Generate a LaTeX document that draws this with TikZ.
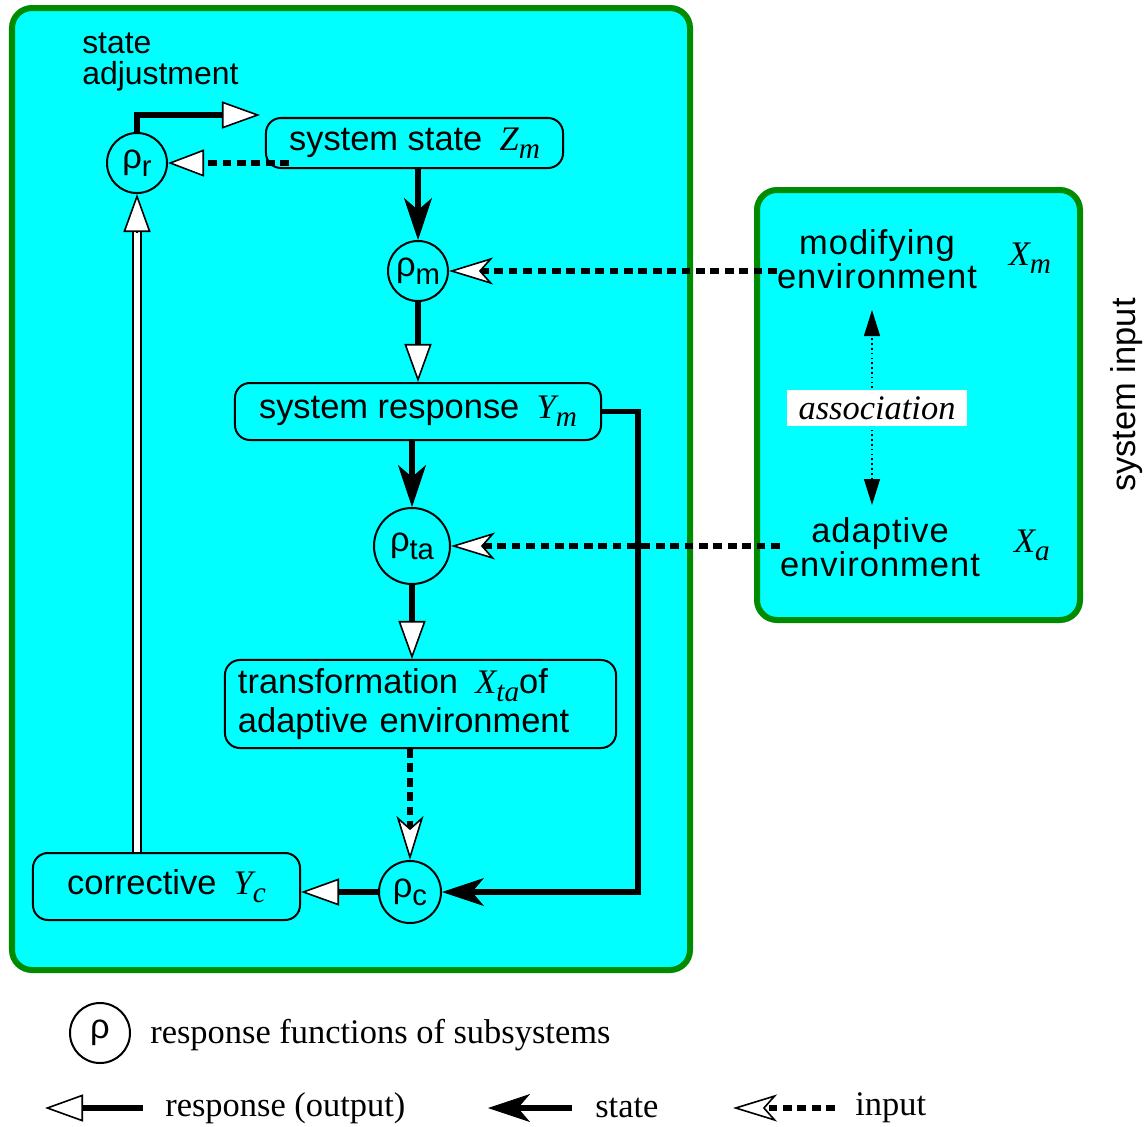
\documentclass[tikz,border=0pt]{standalone}
\usepackage{fontspec}
\setmainfont{Liberation Sans}
\newfontfamily\serif{Liberation Serif}
\newfontfamily\spaced[LetterSpace=3]{Liberation Sans}
\usepackage{tikz}
\usetikzlibrary{arrows.meta,calc}
\definecolor{boxcyan}{RGB}{0,255,255}
\definecolor{boxgreen}{RGB}{0,139,0}
\newcommand{\lowsub}[1]{\raisebox{-0.24em}{\fontsize{20.8}{20.8}\selectfont #1}}
\newcommand{\ivar}[2]{{\serif\itshape #1\lowsub{#2}}}

\begin{document}
\begin{tikzpicture}[x=0.025cm, y=-0.025cm, inner sep=0pt, font=\fontsize{24.5}{29}\selectfont,
    panel/.style={draw=boxgreen, fill=boxcyan, line width=0.15cm, rounded corners=0.5cm},
    rho/.style={circle, draw, line width=0.05cm, fill=boxcyan, minimum size=1.5cm},
    sbox/.style={draw, rounded corners=0.375cm, line width=0.05cm, fill=boxcyan},
    respline/.style={line width=0.13cm, -{Triangle[fill=white, length=0.95cm, width=0.675cm, line width=0.04cm]}},
    stateline/.style={line width=0.13cm, -{Stealth[length=1.05cm, width=0.7cm, inset=0.3cm, line width=0.02cm]}},
    inputline/.style={line width=0.13cm, dash pattern=on 0.22cm off 0.14cm, -{Stealth[fill=white, length=1.1cm, width=0.675cm, inset=0.3cm, line width=0.04cm]}},
    inputtri/.style={line width=0.13cm, dash pattern=on 0.22cm off 0.14cm, -{Triangle[fill=white, length=0.9cm, width=0.675cm, line width=0.04cm]}},
    hollow/.style={line width=0.0375cm, double=white, double distance=0.15cm},
    hollowtip/.style={line width=0.04cm, -{Triangle[fill=white, length=0.95cm, width=0.675cm, line width=0.04cm]}},
    assoc/.style={line width=0.03cm, dash pattern=on 0.04cm off 0.08cm, {Triangle[length=0.65cm, width=0.4cm]}-{Triangle[length=0.65cm, width=0.4cm]}}]
    \useasboundingbox (0,0) rectangle (1147,1127);
    \draw[panel] (12,8) rectangle (690,970);
    \draw[panel] (757,190) rectangle (1080,620);
    \node[anchor=north west, align=left, font=\fontsize{22.7}{21.5}\selectfont] (adj) at (82,33) {state\\adjustment};
    \node[rho] (rr) at (137,163) {ρ\lowsub{r}};
    \node[sbox, minimum width=7.425cm, minimum height=1.25cm] (zm) at (414.5,143) {system state\enspace\ivar{Z}{m}};
    \node[rho] (rm) at (418,271) {ρ\lowsub{m}};
    \node[sbox, minimum width=9.15cm, minimum height=1.425cm] (ym) at (418,411.5) {system response\enspace\ivar{Y}{m}};
    \node[rho, minimum size=1.9cm] (rta) at (412,546) {ρ\lowsub{ta}};
    \node[sbox, text width=9.125cm, inner xsep=0.325cm, minimum height=2.2cm, align=left, font=\fontsize{24.5}{27.5}\selectfont] (xta) at (420.5,704) {transformation\enspace\ivar{X}{ta}of\\adaptive environment};
    \node[rho, minimum size=1.55cm] (rc) at (410,892) {ρ\lowsub{c}};
    \node[sbox, minimum width=6.675cm, minimum height=1.675cm] (yc) at (166.5,886.5) {corrective\enspace\ivar{Y}{c}};
    \node[align=center, font=\spaced\fontsize{24.5}{22.8}\selectfont] (xm) at (877,259) {modifying\\environment};
    \node (xmv) at (1030,258) {\ivar{X}{m}};
    \node[align=center, font=\spaced\fontsize{24.5}{22.8}\selectfont] (xa) at (880,547) {adaptive\\environment};
    \node (xav) at (1032,545) {\ivar{X}{a}};
    \coordinate (atop) at (872,310);
    \coordinate (abot) at (872,505);
    \draw[assoc] (abot) -- (atop);
    \node[fill=white, minimum width=4.5cm, minimum height=0.9cm] (asc) at (877,408) {\serif\itshape association};
    \node[rotate=90] (sin) at (1127,395) {system input};
    \coordinate (adjtip) at (260,115);
    \coordinate (loop) at (638,892);
    \draw[respline] (rr.north) |- (adjtip);
    \draw[inputtri] ($(zm.west |- rr.east)+(24,0)$) -- (rr.east);
    \draw[stateline] (zm.south -| rm) -- (rm.north);
    \draw[inputline] (rm -| xm.west) -- (rm.east);
    \draw[respline] (rm.south) -- (rm.south |- ym.north);
    \draw[stateline] (ym.south -| rta) -- (rta.north);
    \draw[inputline] (rta -| xa.west) -- (rta.east);
    \draw[respline] (rta.south) -- (rta.south |- xta.north);
    \draw[inputline] (xta.south -| rc) -- (rc.north);
    \draw[stateline] (ym.east) -| (loop) -- (rc.east);
    \draw[respline] (rc.west) -- (rc.west -| yc.east);
    \draw[hollow] (yc.north -| rr) -- ($(rr.south)+(0,38)$);
    \draw[hollowtip] ($(rr.south)+(0,39)$) -- (rr.south);
    \node[rho, fill=white] (lrho) at (100,1033) {ρ};
    \node[anchor=west] (lrhot) at (150,1035) {\serif response functions of subsystems};
    \coordinate (l1a) at (143,1108);
    \coordinate (l1b) at (45,1108);
    \draw[respline] (l1a) -- (l1b);
    \node[anchor=west] (l1) at (165,1108) {\serif response (output)};
    \coordinate (l2a) at (572,1108);
    \coordinate (l2b) at (488,1108);
    \draw[stateline] (l2a) -- (l2b);
    \node[anchor=west] (l2) at (595,1108) {\serif state};
    \coordinate (l3a) at (835,1108);
    \coordinate (l3b) at (733,1108);
    \draw[inputline] (l3a) -- (l3b);
    \node[anchor=west] (l3) at (855,1108) {\serif input};
\end{tikzpicture}
\end{document}
